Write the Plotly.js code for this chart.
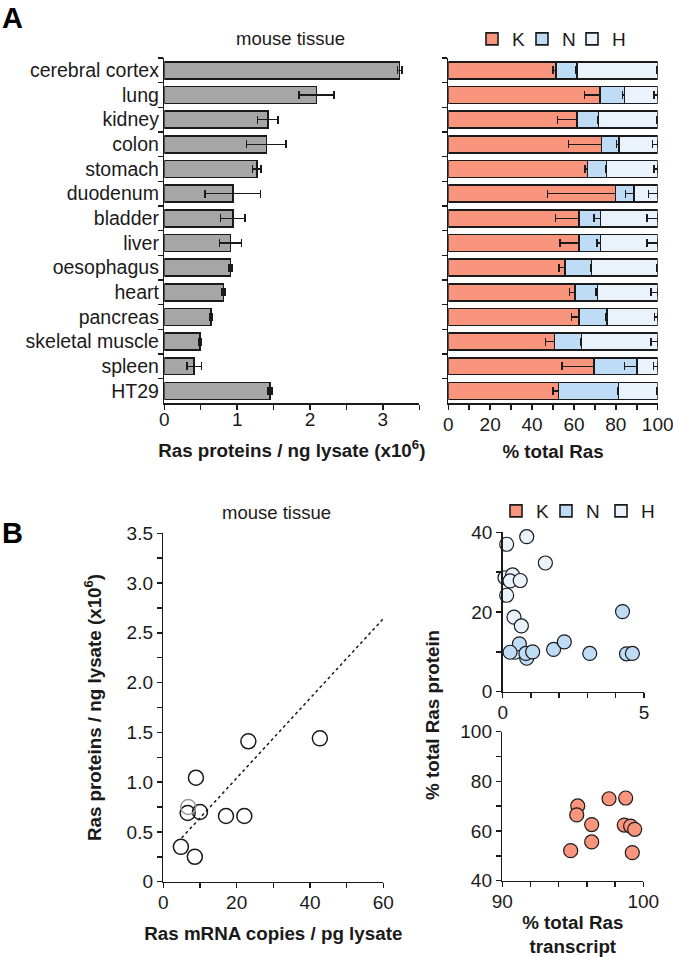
<!DOCTYPE html>
<html><head><meta charset="utf-8">
<script src="https://cdn.plot.ly/plotly-3.0.1.min.js"></script>
<style>html,body{margin:0;padding:0;background:#fff}#chart{width:673px;height:957px}</style>
</head><body><div id="chart"></div>
<script>
// ---------- Panel A data ----------
const tissues = ['cerebral cortex','lung','kidney','colon','stomach','duodenum','bladder','liver','oesophagus','heart','pancreas','skeletal muscle','spleen','HT29'];
const rasProtein    = [3.23,2.09,1.42,1.40,1.27,0.94,0.94,0.91,0.91,0.81,0.64,0.49,0.41,1.45];
const rasProteinErr = [0.03,0.24,0.14,0.27,0.06,0.38,0.17,0.15,0.02,0.02,0.02,0.02,0.10,0.03];
const pctK = [51.3,72.4,61.5,73.1,66.4,79.9,62.4,62.4,55.6,60.4,62.4,50.8,69.7,52.7];
const pctN = [10.2,11.7,10.3,8.3,9.2,8.8,10.2,10.2,12.7,10.8,13.4,12.9,20.4,28.5];
const pctH = [38.5,15.9,28.2,18.6,24.4,11.3,27.4,27.4,31.7,28.8,24.2,36.3,9.9,18.8];
const errK = [1.2,7.4,9.3,15.6,1.0,32.5,11.1,9.0,2.7,2.6,3.5,4.3,15.5,2.8];
const errN = [0.5,1.0,0.5,1.0,0.5,4.0,3.0,1.5,0.5,0.7,0.5,0.5,6.0,0.5];
const errH = [0.3,1.8,0.3,2.4,1.8,4.5,5.0,5.0,0.3,3.2,1.6,3.2,2.1,0.3];
const zeroErr = [0,0,0,0,0,0,0,0,0,0,0,0,0,0];

// ---------- Panel B data ----------
const mrnaCopies  = [60.5,42.7,23.2,8.9,6.65,10.0,17.1,22.1,4.8,8.6];
const protPerNg   = [3.09,1.44,1.41,1.045,0.69,0.70,0.66,0.66,0.35,0.25];
const mrnaGrey    = [6.8];
const protGrey    = [0.75];
const trendX      = [5.0,60.2];
const trendY      = [0.44,2.65];
const hTranscript = [0.14,0.85,1.51,0.08,0.35,0.26,0.62,0.14,0.40,0.66,0.43];
const hProtein    = [37.0,38.9,32.3,28.6,29.3,27.8,27.9,24.2,18.7,16.5,9.9];
const nTranscript = [4.24,0.59,0.26,0.85,0.82,1.06,1.80,2.18,3.08,4.38,4.59];
const nProtein    = [20.1,12.0,9.9,8.4,9.6,10.0,10.6,12.5,9.6,9.5,9.6];
const kTranscript = [95.35,95.28,97.57,98.75,96.34,98.65,99.1,99.39,96.34,94.85,99.22];
const kProtein    = [70.1,66.5,73.0,73.3,62.6,62.4,62.0,60.7,55.6,52.1,51.3];
const protTickVals = [0,0.5,1,1.5,2,2.5,3,3.5];
const protTickText = ['0','0.5','1.0','1.5','2.0','2.5','3.0','3.5'];

const W = 673, H = 957;
const px = v => v / W;
const py = v => 1 - v / H;
const INK = '#1a1a1a';
const cK = '#F8957C', cN = '#BFDCF6', cH = '#EAF3FC', cGrey = '#A6A6A6';
const FONT = 'Liberation Sans, Arial, Helvetica, sans-serif';

const errStyle = {color: INK, thickness: 1.5, width: 4};
const barLine = {color: INK, width: 1.6};

const traces = [
  {type:'bar', orientation:'h', x: rasProtein, y: tissues, xaxis:'x', yaxis:'y', width:0.68,
   marker:{color:cGrey, line:barLine}, showlegend:false,
   error_x:Object.assign({type:'data', array: rasProteinErr, visible:true}, errStyle)},
  {type:'bar', orientation:'h', name:'K', x: pctK, y: tissues, xaxis:'x2', yaxis:'y2', width:0.68,
   marker:{color:cK, line:barLine}, legend:'legend',
   error_x:Object.assign({type:'data', symmetric:false, array: zeroErr, arrayminus: errK, visible:true}, errStyle)},
  {type:'bar', orientation:'h', name:'N', x: pctN, y: tissues, xaxis:'x2', yaxis:'y2', width:0.68,
   marker:{color:cN, line:barLine}, legend:'legend2',
   error_x:Object.assign({type:'data', symmetric:false, array: zeroErr, arrayminus: errN, visible:true}, errStyle)},
  {type:'bar', orientation:'h', name:'H', x: pctH, y: tissues, xaxis:'x2', yaxis:'y2', width:0.68,
   marker:{color:cH, line:barLine}, legend:'legend3',
   error_x:Object.assign({type:'data', symmetric:false, array: zeroErr, arrayminus: errH, visible:true}, errStyle)},
  // Panel B left
  {type:'scatter', mode:'lines', x: trendX, y: trendY, xaxis:'x3', yaxis:'y3', showlegend:false,
   line:{color:INK, width:1.5, dash:'dot'}},
  {type:'scatter', mode:'markers', x: mrnaCopies, y: protPerNg, xaxis:'x3', yaxis:'y3', showlegend:false, cliponaxis:false,
   marker:{symbol:'circle-open', size:15, color:INK, line:{width:1.5}}},
  {type:'scatter', mode:'markers', x: mrnaGrey, y: protGrey, xaxis:'x3', yaxis:'y3', showlegend:false, cliponaxis:false,
   marker:{symbol:'circle-open', size:15, color:'#9a9a9a', line:{width:1.5}}},
  // Panel B right
  {type:'scatter', mode:'markers', name:'H', x: hTranscript, y: hProtein, xaxis:'x4', yaxis:'y4', showlegend:false, cliponaxis:false,
   marker:{size:14, color:cH, line:{color:INK, width:1.2}}},
  {type:'scatter', mode:'markers', name:'N', x: nTranscript, y: nProtein, xaxis:'x4', yaxis:'y4', showlegend:false, cliponaxis:false,
   marker:{size:14, color:cN, line:{color:INK, width:1.2}}},
  {type:'scatter', mode:'markers', name:'K', x: kTranscript, y: kProtein, xaxis:'x5', yaxis:'y5', showlegend:false, cliponaxis:false,
   marker:{size:14, color:cK, line:{color:INK, width:1.2}}},
  // legend entries for panel B
  {type:'bar', name:'K', x:[null], y:[null], xaxis:'x4', yaxis:'y4', legend:'legend4', marker:{color:cK, line:barLine}},
  {type:'bar', name:'N', x:[null], y:[null], xaxis:'x4', yaxis:'y4', legend:'legend5', marker:{color:cN, line:barLine}},
  {type:'bar', name:'H', x:[null], y:[null], xaxis:'x4', yaxis:'y4', legend:'legend6', marker:{color:cH, line:barLine}}
];

const axBase = () => ({showline:true, linecolor:INK, linewidth:1.5, ticks:'outside', tickcolor:INK, tickwidth:1.5, ticklen:5,
  showgrid:false, zeroline:false, fixedrange:true, tickfont:{size:19, color:INK}, ticklabeloverflow:'allow'});
const minor = (d) => ({ticks:'outside', dtick:d, tick0:0, ticklen:5, tickwidth:1.5, tickcolor:INK, showgrid:false});
const ttl = (t, s) => ({text:'<b>'+t+'</b>', font:{size:18.8, color:INK}, standoff:s});
const leg = (x, y) => ({orientation:'h', x:px(x), xanchor:'left', y:py(y), yanchor:'top', font:{size:19, color:INK},
  bgcolor:'rgba(0,0,0,0)', itemwidth:30});

const layout = {
  width:W, height:H, margin:{l:0,r:0,t:0,b:0}, paper_bgcolor:'#fff', plot_bgcolor:'rgba(0,0,0,0)',
  font:{family:FONT, color:INK}, barmode:'stack', showlegend:true,
  xaxis: Object.assign(axBase(), {domain:[px(164.3), px(419.3)], range:[0,3.5], dtick:1, tick0:0, minor:minor(0.5), anchor:'y',
     ticklabelstandoff:-7, title: ttl('Ras proteins / ng lysate (x10<sup>6</sup>)', 15)}),
  yaxis: Object.assign(axBase(), {domain:[py(403.3), py(58)], type:'category', categoryorder:'array', categoryarray:tissues,
     range:[13.5,-0.5], tickson:'boundaries', anchor:'x', tickfont:{size:19.5, color:INK}}),
  xaxis2: Object.assign(axBase(), {domain:[px(448.3), px(657.7)], range:[0,100], dtick:20, tick0:0, minor:minor(10), anchor:'y2',
     ticklabelstandoff:-2, title: ttl('% total Ras', 11)}),
  yaxis2: Object.assign(axBase(), {domain:[py(403.3), py(58)], type:'category', categoryorder:'array', categoryarray:tissues,
     range:[13.5,-0.5], tickson:'boundaries', anchor:'x2', showticklabels:false}),
  xaxis3: Object.assign(axBase(), {domain:[px(163.3), px(383.3)], range:[0,60], dtick:20, tick0:0, minor:minor(10), anchor:'y3',
     ticklabelstandoff:-2, title: ttl('Ras mRNA copies / pg lysate', 15)}),
  yaxis3: Object.assign(axBase(), {domain:[py(881.7), py(533.3)], range:[0,3.5], tickmode:'array', tickvals:protTickVals, ticktext:protTickText,
     minor:minor(0.25), anchor:'x3', title: ttl('Ras proteins / ng lysate (x10<sup>6</sup>)', 20)}),
  xaxis4: Object.assign(axBase(), {domain:[px(502.7), px(644)], range:[0,5], tickmode:'array', tickvals:[0,5], minor:minor(1), anchor:'y4',
     ticklabelstandoff:-2}),
  yaxis4: Object.assign(axBase(), {domain:[py(691.7), py(532.3)], range:[0,40], dtick:20, tick0:0, minor:minor(10), anchor:'x4'}),
  xaxis5: Object.assign(axBase(), {domain:[px(502.3), px(643.3)], range:[90,100], tickmode:'array', tickvals:[90,100], minor:minor(2), anchor:'y5',
     ticklabelstandoff:-2, title: ttl('% total Ras<br>transcript', 15)}),
  yaxis5: Object.assign(axBase(), {domain:[py(880.7), py(731.7)], range:[40,100], dtick:20, tick0:0, minor:minor(10), anchor:'x5'}),
  legend: leg(472, 20), legend2: leg(522, 20), legend3: leg(572, 20),
  legend4: leg(496, 492), legend5: leg(546, 492), legend6: leg(601, 492),
  annotations: [
    {text:'<b>A</b>', xref:'paper', yref:'paper', x:0, y:py(18), xanchor:'left', yanchor:'middle', showarrow:false, font:{size:29, color:'#000'}},
    {text:'<b>B</b>', xref:'paper', yref:'paper', x:0, y:py(533), xanchor:'left', yanchor:'middle', showarrow:false, font:{size:29, color:'#000'}},
    {text:'mouse tissue', xref:'paper', yref:'paper', x:px(290), y:py(39), xanchor:'center', yanchor:'middle', showarrow:false, font:{size:18.5, color:INK}},
    {text:'mouse tissue', xref:'paper', yref:'paper', x:px(276), y:py(512), xanchor:'center', yanchor:'middle', showarrow:false, font:{size:18.5, color:INK}},
    {text:'<b>% total Ras protein</b>', xref:'paper', yref:'paper', x:px(432), y:py(715), xanchor:'center', yanchor:'middle', textangle:-90, showarrow:false, font:{size:18.8, color:INK}}
  ]
};

Plotly.newPlot('chart', traces, layout, {displayModeBar:false, staticPlot:true});
</script></body></html>
